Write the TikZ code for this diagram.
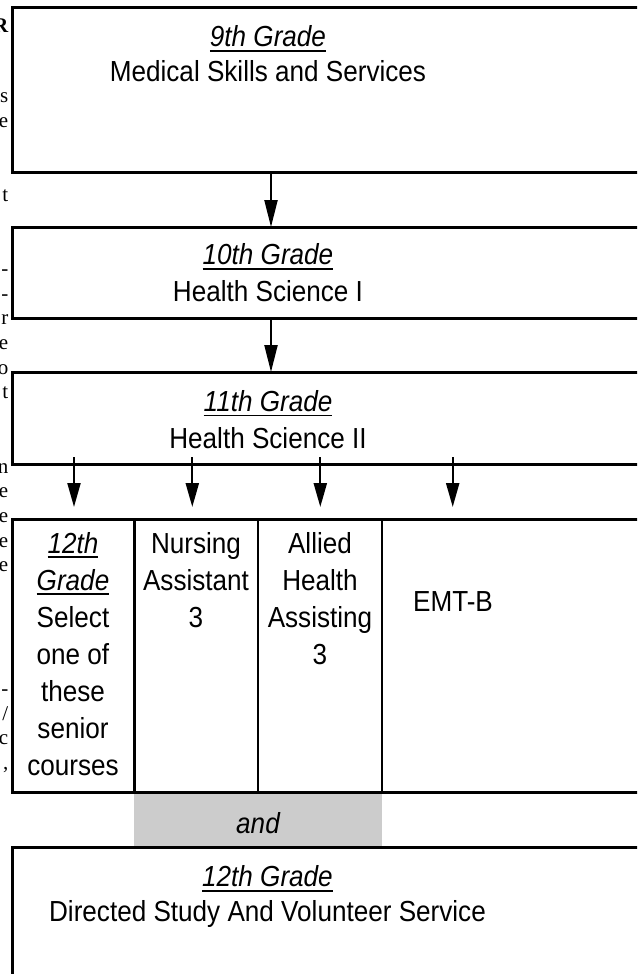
\documentclass[tikz,border=0pt]{standalone}
\usepackage{fontspec}
\setmainfont{Liberation Sans}[FakeStretch=0.9]
\newfontfamily\sidefont{Liberation Serif}
\usetikzlibrary{arrows.meta}
\newsavebox{\gradebox}
\newcommand{\gradeul}[1]{\sbox{\gradebox}{\textit{#1}}\rlap{\rule[-5pt]{\wd\gradebox}{1.8pt}}\usebox{\gradebox}}

\begin{document}
\begin{tikzpicture}[x=1pt,y=-1pt]
        \useasboundingbox (0,0) rectangle (637,974);
        \clip (0,0) rectangle (637,974);

        \coordinate (A) at (12,8);
        \coordinate (B) at (680,172);
        \coordinate (C) at (12,227);
        \coordinate (D) at (680,318);
        \coordinate (E) at (12,372);
        \coordinate (F) at (680,464);
        \coordinate (G) at (12,519);
        \coordinate (H) at (680,792);
        \coordinate (K) at (12,847);
        \coordinate (L) at (680,1000);
        % \coordinate (M) at (524,519);
        % \coordinate (N) at (524,792);

        % arrow ends
        \coordinate (R1) at (271,172);
        \coordinate (S1) at (271,227);
        \coordinate (R2) at (271,318);
        \coordinate (S2) at (271,372);
        \coordinate (P1) at (74,457);
        \coordinate (P2) at (192.3,457);
        \coordinate (P3) at (320.3,457);
        \coordinate (P4) at (452.7,457);
        \coordinate (Q1) at (74,507);
        \coordinate (Q2) at (192.3,507);
        \coordinate (Q3) at (320.3,507);
        \coordinate (Q4) at (452.7,507);

        \fill[black!20] (134.3,792) rectangle (381.7,847);

        \draw[line width=3pt] (A) rectangle (B);
        \draw[line width=3pt] (C) rectangle (D);
        \draw[line width=3pt] (E) rectangle (F);
        \draw[line width=3pt] (G) rectangle (H);
        \draw[line width=3pt] (K) rectangle (L);
        \draw[line width=2.4pt] (134.3,519) -- (134.3,792);
        \draw[line width=2.4pt] (257.7,519) -- (257.7,792);
        \draw[line width=2.4pt] (381.7,519) -- (381.7,792);

        \draw[line width=2.2pt, -{Triangle[length=27pt,width=13pt]}] (R1) -- (S1);
        \draw[line width=2.2pt, -{Triangle[length=27pt,width=13pt]}] (R2) -- (S2);
        \draw[line width=2.2pt, -{Triangle[length=24pt,width=13pt]}] (P1) -- (Q1);
        \draw[line width=2.2pt, -{Triangle[length=24pt,width=13pt]}] (P2) -- (Q2);
        \draw[line width=2.2pt, -{Triangle[length=24pt,width=13pt]}] (P3) -- (Q3);
        \draw[line width=2.2pt, -{Triangle[length=24pt,width=13pt]}] (P4) -- (Q4);

        \node[anchor=base, align=center, font=\fontsize{29}{35}\selectfont] (g9) at (268,81.7) {\gradeul{9th Grade}\\Medical Skills and Services};
        \node[anchor=base, align=center, font=\fontsize{29}{37}\selectfont] (g10) at (268,301.7) {\gradeul{10th Grade}\\Health Science I};
        \node[anchor=base, align=center, font=\fontsize{29}{37}\selectfont] (g11) at (268,448.3) {\gradeul{11th Grade}\\Health Science II};
        \node[anchor=base, align=center, font=\fontsize{29}{37}\selectfont] (sel) at (73,775) {\gradeul{12th}\\\gradeul{Grade}\\Select\\one of\\these\\senior\\courses};
        \node[anchor=base, align=center, font=\fontsize{29}{37}\selectfont] (nurse) at (196,627) {Nursing\\Assistant\\3};
        \node[anchor=base, align=center, font=\fontsize{29}{37}\selectfont] (allied) at (320,664) {Allied\\Health\\Assisting\\3};
        \node[anchor=base, font=\fontsize{29}{37}\selectfont] (emt) at (453,611) {EMT-B};
        \node[anchor=base, font=\fontsize{29}{37}\selectfont\itshape] (and) at (258,833) {and};
        \node[anchor=base, align=center, font=\fontsize{29}{35}\selectfont] (g12) at (267.5,921.7) {\gradeul{12th Grade}\\Directed Study And Volunteer Service};

        \node[anchor=base east, inner sep=0pt, font=\sidefont\bfseries\fontsize{21}{24}\selectfont] (s1) at (8.5,33) {R};
        \node[anchor=base east, inner sep=0pt, font=\sidefont\fontsize{21}{24}\selectfont] (s2) at (8.5,102.5) {s};
        \node[anchor=base east, inner sep=0pt, font=\sidefont\fontsize{21}{24}\selectfont] (s3) at (8.5,127.2) {e};
        \node[anchor=base east, inner sep=0pt, font=\sidefont\fontsize{21}{24}\selectfont] (s4) at (8.5,201.3) {t};
        \node[anchor=base east, inner sep=0pt, font=\sidefont\fontsize{21}{24}\selectfont] (s5) at (8.5,275.4) {-};
        \node[anchor=base east, inner sep=0pt, font=\sidefont\fontsize{21}{24}\selectfont] (s6) at (8.5,300.1) {-};
        \node[anchor=base east, inner sep=0pt, font=\sidefont\fontsize{21}{24}\selectfont] (s7) at (8.5,324.8) {r};
        \node[anchor=base east, inner sep=0pt, font=\sidefont\fontsize{21}{24}\selectfont] (s8) at (8.5,349.5) {e};
        \node[anchor=base east, inner sep=0pt, font=\sidefont\fontsize{21}{24}\selectfont] (s9) at (8.5,374.2) {o};
        \node[anchor=base east, inner sep=0pt, font=\sidefont\fontsize{21}{24}\selectfont] (s10) at (8.5,398.9) {t};
        \node[anchor=base east, inner sep=0pt, font=\sidefont\fontsize{21}{24}\selectfont] (s11) at (8.5,473) {n};
        \node[anchor=base east, inner sep=0pt, font=\sidefont\fontsize{21}{24}\selectfont] (s12) at (8.5,497.7) {e};
        \node[anchor=base east, inner sep=0pt, font=\sidefont\fontsize{21}{24}\selectfont] (s13) at (8.5,522.4) {e};
        \node[anchor=base east, inner sep=0pt, font=\sidefont\fontsize{21}{24}\selectfont] (s14) at (8.5,547.1) {e};
        \node[anchor=base east, inner sep=0pt, font=\sidefont\fontsize{21}{24}\selectfont] (s15) at (8.5,571.8) {e};
        \node[anchor=base east, inner sep=0pt, font=\sidefont\fontsize{21}{24}\selectfont] (s16) at (8.5,695.3) {-};
        \node[anchor=base east, inner sep=0pt, font=\sidefont\fontsize{21}{24}\selectfont] (s17) at (8.5,720) {/};
        \node[anchor=base east, inner sep=0pt, font=\sidefont\fontsize{21}{24}\selectfont] (s18) at (8.5,744.7) {c};
        \node[anchor=base east, inner sep=0pt, font=\sidefont\fontsize{21}{24}\selectfont] (s19) at (8.5,769.4) {,};
    \end{tikzpicture}
\end{document}
